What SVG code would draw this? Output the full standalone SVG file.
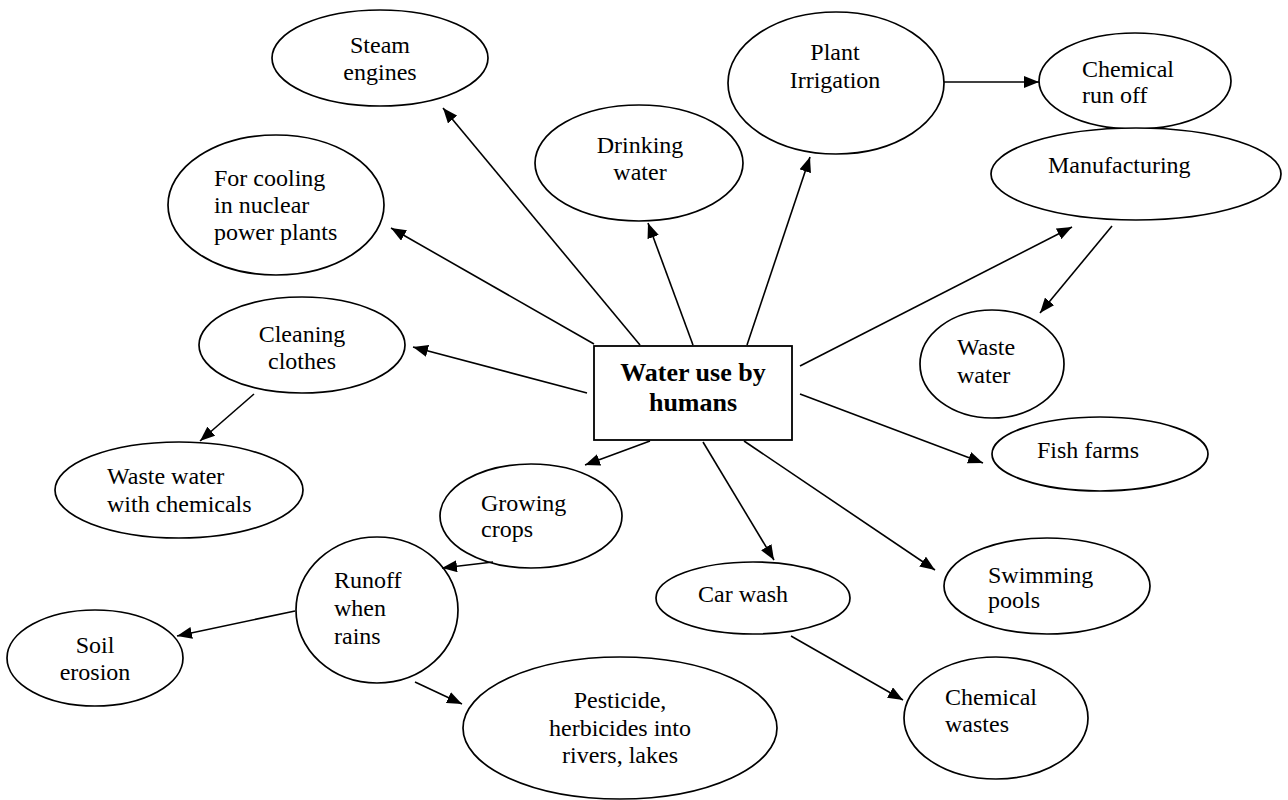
<svg xmlns="http://www.w3.org/2000/svg" width="1288" height="800" viewBox="0 0 1288 800">
<style>
.n ellipse{fill:#fff;stroke:#000;stroke-width:1.7}
.n rect{fill:#fff;stroke:#000;stroke-width:1.8}
text{font-family:"Liberation Serif","Times New Roman",serif;font-size:24px;fill:#000}
.c{text-anchor:middle}
.b{font-weight:bold;font-size:26px;text-anchor:middle}
#edges line{stroke:#000;stroke-width:1.6;marker-end:url(#ah)}
</style>
<defs>
<marker id="ah" markerUnits="userSpaceOnUse" markerWidth="16" markerHeight="12" refX="15" refY="6" orient="auto">
<path d="M0,0 L15,6 L0,12 z" fill="#000"/>
</marker>
</defs>
<rect width="1288" height="800" fill="#fff"/>
<g id="center" class="n"><rect x="594" y="346" width="198" height="94"/><text class="b" x="693" y="381">Water use by</text><text class="b" x="693" y="411">humans</text></g>
<g id="steam" class="n"><ellipse cx="380" cy="58" rx="108" ry="48"/><text class="c" x="380" y="53">Steam</text><text class="c" x="380" y="80">engines</text></g>
<g id="cooling" class="n"><ellipse cx="276" cy="205" rx="108" ry="70"/><text x="214" y="186">For cooling</text><text x="214" y="213">in nuclear</text><text x="214" y="240">power plants</text></g>
<g id="drinking" class="n"><ellipse cx="639" cy="163" rx="104" ry="58"/><text class="c" x="640" y="153">Drinking</text><text class="c" x="640" y="180">water</text></g>
<g id="irrigation" class="n"><ellipse cx="836" cy="83" rx="108" ry="71"/><text class="c" x="835" y="60">Plant</text><text class="c" x="835" y="88">Irrigation</text></g>
<g id="chemrunoff" class="n"><ellipse cx="1135" cy="81" rx="96" ry="48"/><text x="1082" y="77">Chemical</text><text x="1082" y="103">run off</text></g>
<g id="manufacturing" class="n"><ellipse cx="1136" cy="174" rx="145" ry="46"/><text x="1048" y="173">Manufacturing</text></g>
<g id="wastewater" class="n"><ellipse cx="992" cy="364" rx="72" ry="54"/><text x="957" y="355">Waste</text><text x="957" y="383">water</text></g>
<g id="fish" class="n"><ellipse cx="1100" cy="454" rx="108" ry="37"/><text class="c" x="1088" y="458">Fish farms</text></g>
<g id="swimming" class="n"><ellipse cx="1047" cy="586" rx="103" ry="48"/><text x="988" y="583">Swimming</text><text x="988" y="608">pools</text></g>
<g id="chemwastes" class="n"><ellipse cx="996" cy="718" rx="92" ry="61"/><text x="945" y="705">Chemical</text><text x="945" y="732">wastes</text></g>
<g id="carwash" class="n"><ellipse cx="753" cy="598" rx="97" ry="36"/><text class="c" x="743" y="602">Car wash</text></g>
<g id="pesticide" class="n"><ellipse cx="620" cy="728" rx="157" ry="71"/><text class="c" x="620" y="708">Pesticide,</text><text class="c" x="620" y="736">herbicides into</text><text class="c" x="620" y="763">rivers, lakes</text></g>
<g id="runoff" class="n"><ellipse cx="377" cy="610" rx="81" ry="73"/><text x="334" y="588">Runoff</text><text x="334" y="616">when</text><text x="334" y="644">rains</text></g>
<g id="soil" class="n"><ellipse cx="95" cy="658" rx="88" ry="48"/><text class="c" x="95" y="653">Soil</text><text class="c" x="95" y="680">erosion</text></g>
<g id="crops" class="n"><ellipse cx="531" cy="516" rx="91" ry="52"/><text x="481" y="511">Growing</text><text x="481" y="537">crops</text></g>
<g id="wwchem" class="n"><ellipse cx="179" cy="490" rx="124" ry="48"/><text x="107" y="484">Waste water</text><text x="107" y="512">with chemicals</text></g>
<g id="cleaning" class="n"><ellipse cx="302" cy="345" rx="103" ry="48"/><text class="c" x="302" y="342">Cleaning</text><text class="c" x="302" y="369">clothes</text></g>
<g id="edges">
<line x1="640" y1="345" x2="443" y2="108"/>
<line x1="594" y1="344" x2="391" y2="228"/>
<line x1="693" y1="345" x2="648" y2="223"/>
<line x1="747" y1="345" x2="810" y2="157"/>
<line x1="944" y1="82" x2="1039" y2="82"/>
<line x1="800" y1="366" x2="1072" y2="227"/>
<line x1="1112" y1="226" x2="1040" y2="313"/>
<line x1="800" y1="394" x2="983" y2="463"/>
<line x1="744" y1="441" x2="935" y2="570"/>
<line x1="703" y1="442" x2="774" y2="560"/>
<line x1="791" y1="636" x2="903" y2="700"/>
<line x1="650" y1="441" x2="585" y2="465"/>
<line x1="587" y1="393" x2="413" y2="347"/>
<line x1="254" y1="394" x2="200" y2="441"/>
<line x1="493" y1="562" x2="442" y2="568"/>
<line x1="295" y1="611" x2="177" y2="636"/>
<line x1="415" y1="682" x2="462" y2="704"/>
</g>
</svg>
